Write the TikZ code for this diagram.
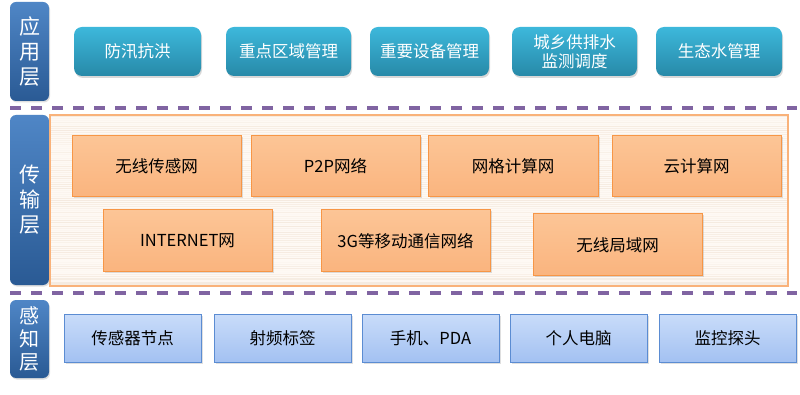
\documentclass[tikz,border=0pt]{standalone}
\usepackage{fontspec}
\setmainfont{Noto Sans CJK SC}
\usetikzlibrary{shadows}
\definecolor{lblTop}{HTML}{4F86C6}
\definecolor{lblBot}{HTML}{2A5A94}
\definecolor{appTop}{HTML}{3DB8DB}
\definecolor{appBot}{HTML}{2789A8}
\definecolor{orFill}{HTML}{FCC596}
\definecolor{orFillB}{HTML}{FAB47E}
\definecolor{orLine}{HTML}{F79646}
\definecolor{frLine}{HTML}{F9B27A}
\definecolor{frFill}{HTML}{FEF9F4}
\definecolor{stripe}{HTML}{E8D4C0}
\definecolor{blTop}{HTML}{C9DCF9}
\definecolor{blBot}{HTML}{A3C1F2}
\definecolor{blLine}{HTML}{5B8CD2}
\definecolor{dashc}{HTML}{8064A2}
\tikzset{
  lbl/.style={rounded corners=6pt, top color=lblTop, bottom color=lblBot, draw=none,
    text=white, align=center, font=\fontsize{21}{25}\selectfont, inner sep=0pt,
    minimum width=39pt, drop shadow={shadow xshift=1pt, shadow yshift=-1.5pt, opacity=0.25}},
  appbox/.style={rounded corners=8pt, top color=appTop, bottom color=appBot, draw=none,
    text=white, align=center, font=\fontsize{16.5}{19}\selectfont, inner sep=0pt,
    minimum height=49pt, drop shadow={shadow xshift=1pt, shadow yshift=-2pt, opacity=0.3}},
  orbox/.style={top color=orFill, bottom color=orFillB, draw=orLine, line width=1pt,
    text=black, align=center, font=\fontsize{16.5}{19}\selectfont, inner sep=0pt,
    drop shadow={shadow xshift=1.5pt, shadow yshift=-1.5pt, opacity=0.25}},
  blbox/.style={top color=blTop, bottom color=blBot, draw=blLine, line width=1pt,
    text=black, align=center, font=\fontsize{16.5}{19}\selectfont, inner sep=0pt,
    minimum width=137pt, minimum height=48pt,
    drop shadow={shadow xshift=1.5pt, shadow yshift=-1.5pt, opacity=0.25}},
  sep/.style={draw=dashc, line width=4pt, dash pattern=on 11pt off 10pt},
  frame/.style={draw=frLine, line width=1.2pt}
}
\begin{document}
\begin{tikzpicture}[x=1pt,y=-1pt]
\useasboundingbox[fill=white] (0,0) rectangle (800,395);
% left labels
\node[lbl, minimum height=99pt] (lA) at (29.5,51.5) {应\\用\\层};
\node[lbl, minimum height=170pt] (lB) at (29.5,200) {传\\输\\层};
\node[lbl, minimum height=78pt, font=\fontsize{20}{23}\selectfont] (lC) at (29.5,339) {感\\知\\层};
% separators
\coordinate (s1a) at (10,108); \coordinate (s1b) at (797,108);
\coordinate (s2a) at (10,293); \coordinate (s2b) at (797,293);
\draw[sep] (s1a) -- (s1b);
\draw[sep] (s2a) -- (s2b);
% transport frame
\fill[frFill] (50,115) rectangle (788,286);
\pgfmathsetseed{7}
\foreach \i in {116,118,...,284} {
  \pgfmathsetmacro\op{rnd*0.4}
  \fill[stripe, opacity=\op] (51,\i) rectangle (787,\i+1.5);
}
\draw[frame] (50,115) rectangle (788,286);
% application boxes
\node[appbox, minimum width=127pt] (a1) at (137.5,51.5) {防汛抗洪};
\node[appbox, minimum width=125pt] (a2) at (288.5,51.5) {重点区域管理};
\node[appbox, minimum width=119pt] (a3) at (429.5,51.5) {重要设备管理};
\node[appbox, minimum width=125pt] (a4) at (574.5,51.5) {城乡供排水\\监测调度};
\node[appbox, minimum width=126pt] (a5) at (719,51.5) {生态水管理};
% transport boxes
\node[orbox, minimum width=169pt, minimum height=61pt] (t1) at (156.5,166.5) {无线传感网};
\node[orbox, minimum width=169pt, minimum height=61pt] (t2) at (335.5,166.5) {P2P网络};
\node[orbox, minimum width=170pt, minimum height=61pt] (t3) at (513,166.5) {网格计算网};
\node[orbox, minimum width=169pt, minimum height=61pt] (t4) at (696.5,166.5) {云计算网};
\node[orbox, minimum width=169pt, minimum height=62pt] (t5) at (187.5,241) {INTERNET网};
\node[orbox, minimum width=169pt, minimum height=62pt] (t6) at (405.5,241) {3G等移动通信网络};
\node[orbox, minimum width=169pt, minimum height=62pt] (t7) at (617.5,245) {无线局域网};
% perception boxes
\node[blbox] (p1) at (132.5,338) {传感器节点};
\node[blbox] (p2) at (282.5,338) {射频标签};
\node[blbox] (p3) at (430.5,338) {手机、PDA};
\node[blbox] (p4) at (578.5,338) {个人电脑};
\node[blbox] (p5) at (727.5,338) {监控探头};
\end{tikzpicture}
\end{document}
